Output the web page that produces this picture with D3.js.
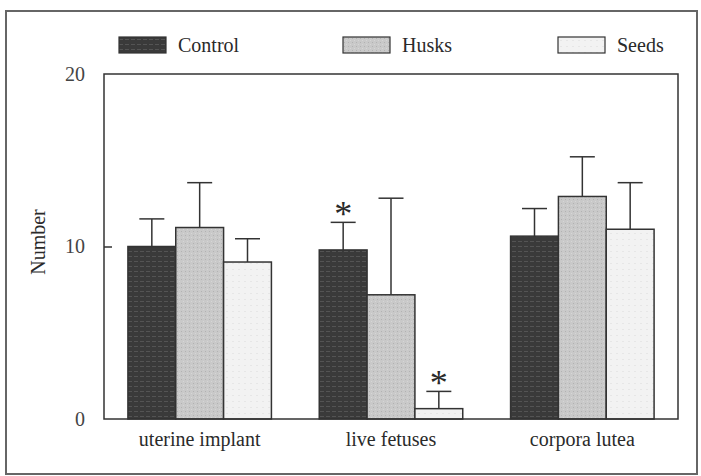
<!DOCTYPE html>
<html>
<head>
<meta charset="utf-8">
<script src="https://cdn.jsdelivr.net/npm/d3@7"></script>
<style>
    body { margin: 0; background: #fff; }
    text { font-family: "Liberation Serif", "Times New Roman", serif; fill: #2a2a2a; }
</style>
</head>
<body>
<script>
var categories = ["uterine implant", "live fetuses", "corpora lutea"];
var groups = ["Control", "Husks", "Seeds"];
var control = [10.0, 9.8, 10.6];
var husks = [11.1, 7.2, 12.9];
var seeds = [9.1, 0.6, 11.0];
var controlErr = [1.6, 1.6, 1.6];
var husksErr = [2.6, 5.6, 2.3];
var seedsErr = [1.35, 1.0, 2.7];
// significant marks: [category index, group index]
var stars = [[1, 0], [1, 2]];
var yTicks = [0, 10, 20];

var widthContainer = 701, heightContainer = 476;
var margin = {top: 74, right: 23, bottom: 57, left: 104};
var w = widthContainer - margin.left - margin.right;
var h = heightContainer - margin.top - margin.bottom;

var means = [control, husks, seeds];
var errs = [controlErr, husksErr, seedsErr];
var rows = [];
categories.forEach(function(c, i) {
    groups.forEach(function(g, j) {
        rows.push({cat: c, grp: g, value: means[j][i], err: errs[j][i]});
    });
});

var svg = d3.select("body")
    .append("svg")
    .attr("width", widthContainer)
    .attr("height", heightContainer);

// bar textures
var defs = svg.append("defs");
var pc = defs.append("pattern").attr("id", "pControl")
    .attr("patternUnits", "userSpaceOnUse").attr("width", 6).attr("height", 5);
pc.append("rect").attr("width", 6).attr("height", 5).style("fill", "#3a3a3a");
pc.append("rect").attr("y", 2).attr("width", 4).attr("height", 1).style("fill", "#545454");
var ph = defs.append("pattern").attr("id", "pHusks")
    .attr("patternUnits", "userSpaceOnUse").attr("width", 4).attr("height", 4);
ph.append("rect").attr("width", 4).attr("height", 4).style("fill", "#c9c9c9");
ph.append("rect").attr("x", 1).attr("y", 1).attr("width", 1).attr("height", 1).style("fill", "#b2b2b2");
ph.append("rect").attr("x", 3).attr("y", 3).attr("width", 1).attr("height", 1).style("fill", "#d6d6d6");
var ps = defs.append("pattern").attr("id", "pSeeds")
    .attr("patternUnits", "userSpaceOnUse").attr("width", 6).attr("height", 6);
ps.append("rect").attr("width", 6).attr("height", 6).style("fill", "#f2f2f2");
ps.append("rect").attr("x", 2).attr("y", 3).attr("width", 2).attr("height", 1).style("fill", "#e6e6e6");

var fills = {Control: "url(#pControl)", Husks: "url(#pHusks)", Seeds: "url(#pSeeds)"};

// outer frame
svg.append("rect")
    .attr("x", 6).attr("y", 11)
    .attr("width", 691).attr("height", 463)
    .style("fill", "none")
    .style("stroke", "#666")
    .style("stroke-width", 2);

var g = svg.append("g")
    .attr("transform", "translate(" + margin.left + "," + margin.top + ")");

var x0 = d3.scaleBand()
    .domain(categories)
    .range([0, w])
    .paddingInner(0.25)
    .paddingOuter(0.125);

var x1 = d3.scaleBand()
    .domain(groups)
    .range([0, x0.bandwidth()]);

var y = d3.scaleLinear()
    .domain([0, 20])
    .range([h, 0]);

// bars
g.selectAll(".bar")
    .data(rows)
    .enter()
    .append("rect")
    .attr("class", "bar")
    .attr("x", function(d) { return x0(d.cat) + x1(d.grp); })
    .attr("y", function(d) { return y(d.value); })
    .attr("width", x1.bandwidth())
    .attr("height", function(d) { return h - y(d.value); })
    .style("fill", function(d) { return fills[d.grp]; })
    .style("stroke", "#333")
    .style("stroke-width", 1.5);

// error bars (upper only)
var eb = g.selectAll(".err")
    .data(rows)
    .enter()
    .append("g")
    .attr("class", "err")
    .attr("transform", function(d) { return "translate(" + (x0(d.cat) + x1(d.grp) + x1.bandwidth() / 2) + ",0)"; });
eb.append("line")
    .attr("y1", function(d) { return y(d.value); })
    .attr("y2", function(d) { return y(d.value + d.err); })
    .style("stroke", "#333").style("stroke-width", 1.5);
eb.append("line")
    .attr("x1", -12.5).attr("x2", 12.5)
    .attr("y1", function(d) { return y(d.value + d.err); })
    .attr("y2", function(d) { return y(d.value + d.err); })
    .style("stroke", "#333").style("stroke-width", 1.5);

// asterisks
g.selectAll(".star")
    .data(stars)
    .enter()
    .append("text")
    .attr("class", "star")
    .attr("x", function(d) { return x0(categories[d[0]]) + x1(groups[d[1]]) + x1.bandwidth() / 2; })
    .attr("y", function(d) { return y(means[d[1]][d[0]] + errs[d[1]][d[0]]) + 4; })
    .attr("text-anchor", "middle")
    .style("font-size", "36px")
    .text("*");

// plot frame
g.append("rect")
    .attr("width", w).attr("height", h)
    .style("fill", "none")
    .style("stroke", "#333")
    .style("stroke-width", 1.5);

// y axis
var yAxis = g.append("g")
    .call(d3.axisLeft(y).tickValues(yTicks).tickSize(-8).tickPadding(19));
yAxis.select(".domain").remove();
yAxis.selectAll("line")
    .style("stroke", "#333").style("stroke-width", 1.5)
    .filter(function(d) { return d !== 10; }).remove();
yAxis.selectAll("text")
    .attr("x", -19)
    .style("text-anchor", "end")
    .style("font-family", "Liberation Serif")
    .style("font-size", "20px")
    .style("fill", "#444");

// category labels
g.selectAll(".cat-label")
    .data(categories)
    .enter()
    .append("text")
    .attr("class", "cat-label")
    .attr("x", function(d) { return x0(d) + x0.bandwidth() / 2; })
    .attr("y", h + 27)
    .attr("text-anchor", "middle")
    .style("font-size", "20px")
    .text(function(d) { return d; });

// y label
svg.append("text")
    .attr("transform", "rotate(-90)")
    .attr("x", -242)
    .attr("y", 45)
    .attr("text-anchor", "middle")
    .style("font-size", "20px")
    .text("Number");

// legend
var legendX = [119, 343, 558];
var legend = svg.selectAll(".legend")
    .data(groups)
    .enter()
    .append("g")
    .attr("class", "legend")
    .attr("transform", function(d, i) { return "translate(" + legendX[i] + ",37)"; });
legend.append("rect")
    .attr("width", 47).attr("height", 16)
    .style("fill", function(d) { return fills[d]; })
    .style("stroke", "#333")
    .style("stroke-width", 1.2);
legend.append("text")
    .attr("x", 59)
    .attr("y", 15)
    .style("font-size", "20px")
    .text(function(d) { return d; });
</script>
</body>
</html>
